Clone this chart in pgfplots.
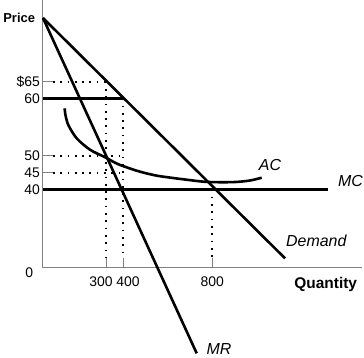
\documentclass[border=0pt]{standalone}
\usepackage{pgfplots}
\pgfplotsset{compat=1.18}
\usepackage{fontspec}
\setmainfont{Liberation Sans}
\begin{document}
\begin{tikzpicture}
\begin{axis}[
  scale only axis, width=319bp, height=267.7bp,
  xmin=0, xmax=319, ymin=0, ymax=267.7,
  axis x line=bottom, axis y line=left,
  axis line style={-, gray, line width=1bp},
  tick align=inside, major tick length=10bp,
  tick style={gray, line width=1bp},
  xtick={63,80,169.3}, xticklabels={\hspace*{-10bp}300,\hspace*{10bp}400,800},
  ytick={186,169.4,111.7,94.7,78.2}, yticklabels={\$65,60,50,45,40},
  ticklabel style={font=\fontsize{14}{14}\selectfont},
  xticklabel style={yshift=-5.5bp},
  yticklabel style={xshift=0.5bp},
  clip=false,
]
% dotted guides
\addplot[black, line width=1.7bp, dash pattern=on 1.7bp off 5.6bp] coordinates {(10,186) (62.7,186)};
\addplot[black, line width=1.7bp, dash pattern=on 1.7bp off 5.6bp] coordinates {(10,111.7) (79.7,111.7)};
\addplot[black, line width=1.7bp, dash pattern=on 1.7bp off 5.6bp] coordinates {(10,94.7) (79.7,94.7)};
\addplot[black, line width=1.7bp, dash pattern=on 1.7bp off 5.6bp] coordinates {(62.7,186) (62.7,10)};
\addplot[black, line width=1.7bp, dash pattern=on 1.7bp off 5.6bp] coordinates {(79.7,169.4) (79.7,10)};
\addplot[black, line width=1.7bp, dash pattern=on 1.7bp off 5.6bp] coordinates {(169.3,78.2) (169.3,10)};
% price 60 line
\addplot[black, line width=2.6bp] coordinates {(0,169.4) (80,169.4)};
% MC
\addplot[black, line width=2.6bp] coordinates {(0,78.2) (285.3,78.2)};
% Demand
\addplot[black, line width=2.6bp] coordinates {(0,249.7) (242,9.4)};
% MR
\addplot[black, line width=2.6bp] coordinates {(0,249.7) (153.7,-85.6)};
% AC
\addplot[black, line width=2.6bp, smooth] coordinates {
 (21.7,159.4) (22.3,153.5) (25.3,142.7) (33.7,129.4) (47,118) (62,110.5)
 (75,103.6) (93.7,97) (107,93.5) (117,91.5) (140.3,88.4) (163.7,85.8)
 (190.3,85.6) (207,87.2) (218.7,90)};
% labels
\node[font=\fontsize{16}{16}\selectfont\itshape] at (axis cs:227,102.7) {AC};
\node[font=\fontsize{16}{16}\selectfont\itshape] at (axis cs:307.5,87) {MC};
\node[font=\fontsize{16}{16}\selectfont\itshape] at (axis cs:273.3,26.9) {Demand};
\node[font=\fontsize{16}{16}\selectfont\itshape] at (axis cs:176,-81.3) {MR};
\node[font=\fontsize{13}{13}\selectfont\bfseries] at (axis cs:-23.8,249.4) {Price};
\node[font=\fontsize{15.5}{15.5}\selectfont\bfseries] at (axis cs:282.7,-16.5) {Quantity};
\node[font=\fontsize{14}{14}\selectfont, anchor=north east, inner sep=0pt, xshift=-9.7bp, yshift=-0.3bp] at (axis cs:0,0) {0};
\end{axis}
\pgfresetboundingbox
\path[use as bounding box] (-43bp,-90.3bp) rectangle (321bp,267.7bp);
\end{tikzpicture}
\end{document}
